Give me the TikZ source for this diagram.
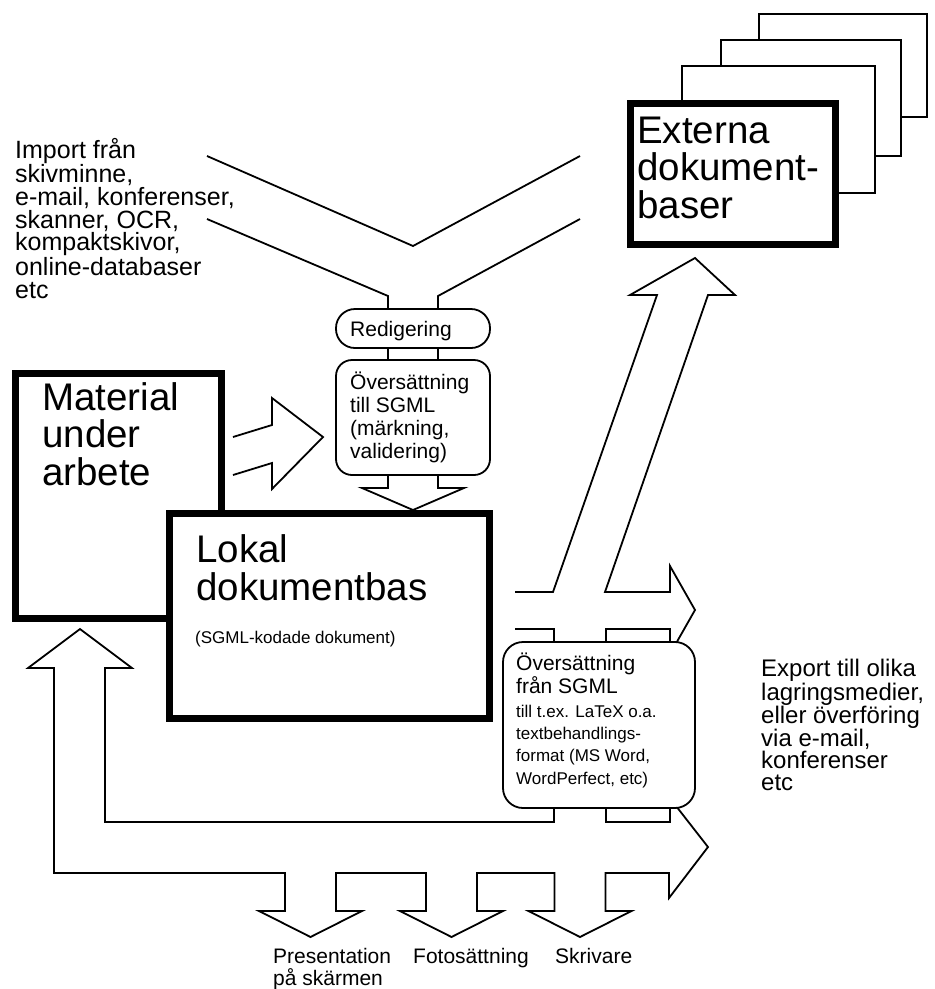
\documentclass[tikz,border=0pt]{standalone}
\usepackage{fontspec}
\setmainfont{Liberation Sans}
\usetikzlibrary{positioning}

\begin{document}
\begin{tikzpicture}[
  x=1pt, y=-1pt,
  ln/.style={line width=1.8pt},
  dbbox/.style={draw, line width=7pt, fill=white, inner sep=0pt, outer sep=0pt},
  proc/.style={draw, line width=1.8pt, fill=white, rounded corners=16pt,
               inner sep=0pt, outer sep=0pt},
  big/.style={font=\fontsize{38.5}{37.5}\selectfont, align=left,
              anchor=base west, inner sep=0pt},
  mid/.style={font=\fontsize{21}{23}\selectfont, align=left,
              anchor=base west, inner sep=0pt},
  small/.style={font=\fontsize{17}{22.3}\selectfont, align=left,
                anchor=base west, inner sep=0pt},
  note/.style={font=\fontsize{25}{22.8}\selectfont, align=left,
               anchor=base west, inner sep=0pt}
]
\useasboundingbox (0,0) rectangle (935,989);
% external document bases, pages behind
\foreach \xa/\ya/\xb/\yb in {759/14/927/117, 721/40/901/156, 682/66/875/193}
  \draw[ln, fill=white] (\xa,\ya) rectangle (\xb,\yb);
\node[dbbox, minimum width=205pt, minimum height=141pt] (ext) at (733,174) {};
\node[big] at (637,218) {Externa\\dokument-\\baser};
% import funnel
\draw[ln] (207,156) -- (413,246) -- (580,156);
\node[proc, rounded corners=19pt, minimum width=154pt, minimum height=39pt]
  (redig) at (413,328.5) {};
\node[mid] at (350,336) {Redigering};
\node[proc, minimum width=154pt, minimum height=115pt] (totrans) at (413,417.5) {};
\draw[ln] (207,219) -- (388,296) -- ([xshift=-25pt]redig.north);
\draw[ln] (580,219) -- (438,296) -- ([xshift=25pt]redig.north);
\foreach \s in {-25,25}
  \draw[ln] ([xshift=\s pt]redig.south) -- ([xshift=\s pt]totrans.north);
\node[mid] at (350,458) {Översättning\\till SGML\\(märkning,\\validering)};
\draw[ln] ([xshift=-25pt]totrans.south) -- (388,488) -- (362,488) -- (413,510)
  -- (464,488) -- (438,488) -- ([xshift=25pt]totrans.south);
% work material and local base
\node[dbbox, minimum width=206pt, minimum height=245pt] (mat) at (118.5,496) {};
\node[big] at (42,485) {Material\\under\\arbete};
\draw[ln] (233,437) -- (272,425) -- (272,398) -- (323,437) -- (272,489)
  -- (272,463) -- (233,475);
\node[dbbox, minimum width=320pt, minimum height=205pt] (lok) at (329.5,616) {};
\node[big] at (196,600) {Lokal\\dokumentbas};
\node[small] at (195,643) {(SGML-kodade dokument)};
% export arrows
\draw[ln] (515,592) -- (553,592) -- (657,295) -- (630,295) -- (695,258)
  -- (735,295) -- (708,295) -- (605,592) -- (670,592) -- (670,566)
  -- (695,610) -- (670,654) -- (670,629) -- (606,629) -- (606,650);
\draw[ln] (515,629) -- (554,629) -- (554,650);
% return arrow and output devices
\draw[ln] (554,800) -- (554,822) -- (105,822) -- (105,668) -- (132,668)
  -- (80,629) -- (28,668) -- (54,668) -- (54,873)
  foreach \c in {310.5,451.5,580} {
    -- ({\c-25.5},873) -- ({\c-25.5},911) -- ({\c-51.5},911) -- (\c,937)
    -- ({\c+51.5},911) -- ({\c+25.5},911) -- ({\c+25.5},873) }
  -- (669,873) -- (669,898) -- (708,847) -- (669,797);
\draw[ln] (606,800) -- (606,822) -- (670,822) -- (670,800);
\node[proc, rounded corners=20pt, minimum width=192pt, minimum height=166pt]
  (fromtrans) at (599,725) {};
\node[mid] at (516,693) {Översättning\\från SGML};
\node[small] at (516,784) {till t.ex. LaTeX o.a.\\textbehandlings-\\format (MS Word,\\WordPerfect, etc)};
% labels
\node[note] at (15,298) {Import från\\skivminne,\\e-mail, konferenser,\\skanner, OCR,\\kompaktskivor,\\online-databaser\\etc};
\node[note, font=\fontsize{24}{21.6}\selectfont] at (761,790)
  {Export till olika\\lagringsmedier,\\eller överföring\\via e-mail,\\konferenser\\etc};
\node[mid, font=\fontsize{21}{22}\selectfont] at (273,985) {Presentation\\på skärmen};
\node[mid] at (413,963) {Fotosättning};
\node[mid] at (555,963) {Skrivare};
\end{tikzpicture}
\end{document}
